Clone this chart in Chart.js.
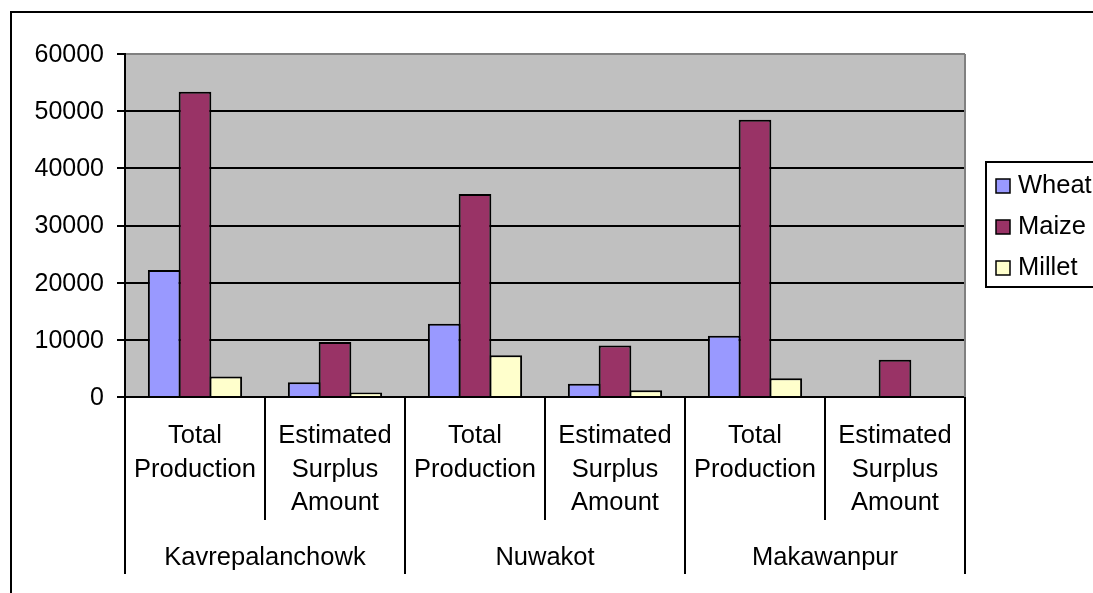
<!DOCTYPE html>
<html>
<head>
<meta charset="utf-8">
<script src="https://cdn.jsdelivr.net/npm/chart.js@4"></script>
<style>
  html, body { margin: 0; padding: 0; background: #fff; overflow: hidden; }
  canvas { display: block; }
</style>
</head>
<body>
<canvas id="chart" width="1093" height="593"></canvas>
<script>
// Districts (outer category level) and measures (inner category level)
const districts = ['Kavrepalanchowk', 'Nuwakot', 'Makawanpur'];
const measures = [['Total', 'Production'], ['Estimated', 'Surplus', 'Amount']];

// Values per category: Kavre total, Kavre surplus, Nuwakot total, Nuwakot surplus, Makawanpur total, Makawanpur surplus
const wheat  = [22200, 2600, 12800, 2300, 10700, 0];
const maize  = [53400, 9600, 35500, 9000, 48500, 6500];
const millet = [3600,   800,  7300, 1200,  3300, 0];

const yTicks = [0, 10000, 20000, 30000, 40000, 50000, 60000];

const seriesNames = ['Wheat', 'Maize', 'Millet'];
const seriesColors = ['#9999FF', '#993366', '#FFFFCC'];

const FONT = "'Liberation Sans', Arial, sans-serif";
const LABEL_SIZE = 25.5;
const categories = districts.flatMap(() => measures);

// Layout constants
const PLOT_LEFT = 125, PLOT_RIGHT = 965, PLOT_TOP = 54, PLOT_BOTTOM = 397;
const W = 1093, H = 593;

const framePlugin = {
  id: 'frame',
  beforeDraw(chart) {
    const { ctx, chartArea: a } = chart;
    ctx.save();
    ctx.fillStyle = '#C0C0C0';
    ctx.fillRect(a.left, a.top, a.right - a.left, a.bottom - a.top);
    ctx.restore();
  },
  afterDatasetsDraw(chart) {
    const { ctx, chartArea: a } = chart;
    ctx.save();
    ctx.strokeStyle = '#808080';
    ctx.lineWidth = 2;
    ctx.beginPath();
    ctx.moveTo(a.right, a.top);
    ctx.lineTo(a.right, a.bottom);
    ctx.stroke();
    ctx.restore();
  },
  afterDraw(chart) {
    const { ctx, chartArea: a } = chart;
    const xs = chart.scales.x;
    ctx.save();

    // Category dividers below the axis: long ones between districts, short ones between measures
    ctx.strokeStyle = '#000';
    ctx.lineWidth = 2;
    for (let i = 0; i <= categories.length; i++) {
      const x = Math.round(xs.getPixelForValue(i - 0.5));
      const len = (i % measures.length === 0) ? 177 : 123;
      ctx.beginPath();
      ctx.moveTo(x, a.bottom);
      ctx.lineTo(x, a.bottom + len);
      ctx.stroke();
    }

    // District labels
    ctx.fillStyle = '#000';
    ctx.font = LABEL_SIZE + 'px ' + FONT;
    ctx.textAlign = 'center';
    ctx.textBaseline = 'middle';
    districts.forEach((d, g) => {
      const cx = xs.getPixelForValue(g * measures.length + (measures.length - 1) / 2);
      ctx.fillText(d, cx, a.bottom + 161);
    });

    // Legend
    const lx = 986, ly = 162, lh = 125;
    ctx.lineWidth = 2;
    ctx.strokeStyle = '#000';
    ctx.fillStyle = '#fff';
    ctx.fillRect(lx, ly, 200, lh);
    ctx.strokeRect(lx, ly, 200, lh);
    ctx.textAlign = 'left';
    chart.data.datasets.forEach((ds, i) => {
      const cy = 186 + i * 41;
      ctx.fillStyle = ds.backgroundColor;
      ctx.fillRect(996, cy - 7, 14, 14);
      ctx.lineWidth = 1.5;
      ctx.strokeRect(996, cy - 7, 14, 14);
      ctx.fillStyle = '#000';
      ctx.fillText(ds.label, 1018, cy);
    });

    // Outer chart frame
    ctx.lineWidth = 2;
    ctx.beginPath();
    ctx.moveTo(11, H + 5);
    ctx.lineTo(11, 12);
    ctx.lineTo(W + 5, 12);
    ctx.stroke();
    ctx.restore();
  }
};

new Chart(document.getElementById('chart'), {
  type: 'bar',
  data: {
    labels: categories,
    datasets: [wheat, maize, millet].map((vals, i) => ({
      label: seriesNames[i],
      data: vals,
      backgroundColor: seriesColors[i],
      borderColor: '#000',
      borderWidth: 2,
      categoryPercentage: 0.66,
      barPercentage: 1.06
    }))
  },
  options: {
    responsive: false,
    animation: false,
    devicePixelRatio: 1,
    layout: { padding: { left: 0, top: PLOT_TOP, right: W - PLOT_RIGHT, bottom: 0 } },
    plugins: {
      legend: { display: false },
      tooltip: { enabled: false }
    },
    scales: {
      x: {
        type: 'category',
        offset: true,
        grid: { display: true, drawOnChartArea: false, drawTicks: false, color: 'rgba(0,0,0,0)' },
        border: { display: true, color: '#000', width: 2 },
        ticks: {
          color: '#000',
          autoSkip: false,
          maxRotation: 0,
          minRotation: 0,
          padding: 22,
          font: { family: FONT, size: LABEL_SIZE, lineHeight: 33.75 / LABEL_SIZE }
        },
        afterFit(scale) { scale.height = H - PLOT_BOTTOM; }
      },
      y: {
        min: yTicks[0],
        max: yTicks[yTicks.length - 1],
        afterBuildTicks(scale) { scale.ticks = yTicks.map(v => ({ value: v })); },
        grid: {
          color: (c) => (c.tick && c.tick.value === yTicks[yTicks.length - 1]) ? '#808080' : '#000',
          lineWidth: 2,
          tickColor: '#000',
          tickWidth: 2,
          tickLength: 8,
          drawTicks: true
        },
        border: { display: true, color: '#000', width: 2 },
        ticks: {
          color: '#000',
          padding: 13,
          labelOffset: 1,
          font: { family: FONT, size: 25 },
          callback: (v) => String(v)
        },
        afterFit(scale) { scale.width = PLOT_LEFT; }
      }
    }
  },
  plugins: [framePlugin]
});
</script>
</body>
</html>
